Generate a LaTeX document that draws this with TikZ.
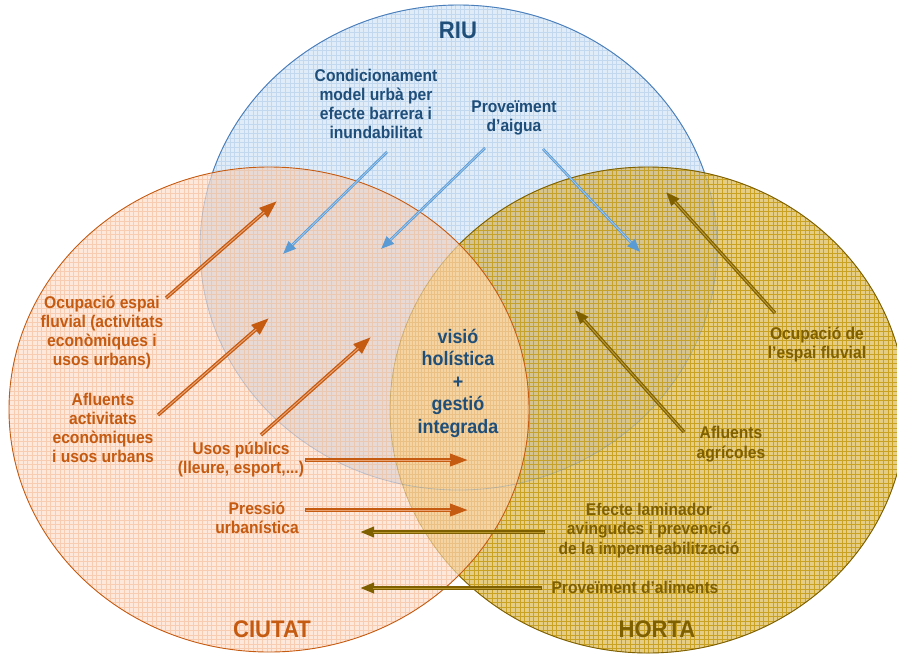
\documentclass[tikz,border=0pt]{standalone}
\usepackage{fontspec}
\setmainfont{Liberation Sans}[FakeStretch=0.92]
\usetikzlibrary{arrows.meta}
\definecolor{riutext}{HTML}{1F4E79}
\definecolor{ciutext}{HTML}{C55A11}
\definecolor{horttext}{HTML}{7F6000}
\definecolor{riufill}{HTML}{E0EDF9}
\definecolor{riugrid}{HTML}{B4D0EC}
\definecolor{ciufill}{HTML}{FDE8DB}
\definecolor{ciugrid}{HTML}{F6C6A6}
\definecolor{hortfill}{HTML}{E6CD85}
\definecolor{hortgrid}{HTML}{C69E1A}
\definecolor{riuciufill}{HTML}{E9D9D4}
\definecolor{riuhortfill}{HTML}{D5C48F}
\definecolor{lensfill}{HTML}{F3D4A2}
\definecolor{lensgrid}{HTML}{E3B06C}
\definecolor{riuline}{HTML}{4A7EBB}
\definecolor{ciuline}{HTML}{C55A11}
\definecolor{hortline}{HTML}{7F6000}
\definecolor{blueshaft}{HTML}{5B9BD5}
\definecolor{bluecore}{HTML}{A9CCEB}
\definecolor{orshaft}{HTML}{C55A11}
\definecolor{orcore}{HTML}{EBA272}
\definecolor{olshaft}{HTML}{7F6000}
\definecolor{olcore}{HTML}{B8982E}
\def\riu{(458.5,247.5) ellipse [x radius=258.5, y radius=242.5]}
\def\ciu{(269,409.5) ellipse [x radius=260, y radius=242.5]}
\def\hort{(648,410) ellipse [x radius=258, y radius=243]}
\tikzset{
  gridlines/.style={line width=0.45pt},
  riutxt/.style={text=riutext, align=center, font=\bfseries\fontsize{17}{19}\selectfont},
  ciutxt/.style={text=ciutext, align=center, font=\bfseries\fontsize{17}{19}\selectfont},
  horttxt/.style={text=horttext, align=center, font=\bfseries\fontsize{17}{19.5}\selectfont},
  bigtxt/.style={font=\bfseries\fontsize{24}{28}\selectfont},
  bluearrow/.style={draw=blueshaft, line width=2.6pt, -{Triangle[length=13pt,width=10pt]}},
  bluecoreline/.style={draw=bluecore, line width=0.7pt, shorten >=13pt, shorten <=0.5pt},
  orarrow/.style={draw=orshaft, line width=3.6pt, -{Triangle[length=18pt,width=12pt]}},
  orcoreline/.style={draw=orcore, line width=1pt, shorten >=17pt, shorten <=0.6pt},
  olarrow/.style={draw=olshaft, line width=3.4pt, -{Triangle[length=14pt,width=10pt]}},
  olcoreline/.style={draw=olcore, line width=1pt, shorten >=13pt, shorten <=0.6pt},
}
\begin{document}
\begin{tikzpicture}[x=1pt,y=-1pt]
\useasboundingbox (0,0) rectangle (897,654);
% base fills
\fill[riufill] \riu;
\fill[ciufill] \ciu;
\fill[hortfill] \hort;
\begin{scope}
  \clip \riu;
  \fill[riuciufill] \ciu;
  \fill[riuhortfill] \hort;
\end{scope}
% grid textures (drawn in an upward y system so both steps are positive)
\begin{scope}
  \clip \riu;
  \begin{scope}[y=1pt]
    \draw[gridlines, riugrid, draw opacity=0.7] (0,-656) grid[step=4.6] (897,0);
  \end{scope}
\end{scope}
\begin{scope}
  \clip \ciu;
  \begin{scope}[y=1pt]
    \draw[gridlines, ciugrid, draw opacity=0.8] (0,-656) grid[step=4.6] (897,0);
  \end{scope}
\end{scope}
\begin{scope}
  \clip \hort;
  \begin{scope}[y=1pt]
    \draw[hortgrid, line width=0.6pt, draw opacity=0.9] (0,-656) grid[step=4.6] (897,0);
  \end{scope}
\end{scope}
% lens CIUTAT-HORTA
\begin{scope}
  \clip \ciu;
  \fill[lensfill] \hort;
  \clip \hort;
  \begin{scope}[y=1pt]
    \draw[gridlines, lensgrid, draw opacity=0.55] (0,-656) grid[xstep=3.1, ystep=4.6] (897,0);
  \end{scope}
\end{scope}
% outlines
\draw[riuline, line width=0.8pt, draw opacity=0.3] \riu;
\begin{scope}[even odd rule]
  \clip (-5,-5) rectangle (905,660) \ciu;
  \begin{scope}[even odd rule]
    \clip (-5,-5) rectangle (905,660) \hort;
    \draw[riuline, line width=0.9pt] \riu;
  \end{scope}
\end{scope}
\draw[hortline, line width=0.8pt, draw opacity=0.25] \hort;
\begin{scope}[even odd rule]
  \clip (-5,-5) rectangle (905,660) \ciu;
  \draw[hortline, line width=0.9pt] \hort;
\end{scope}
\draw[ciuline, line width=0.9pt] \ciu;

% labels
\node[riutxt, bigtxt] (riu) at (458,30) {RIU};
\node[ciutxt, bigtxt] (ciutat) at (272,629) {CIUTAT};
\node[horttxt, bigtxt] (horta) at (657,629) {HORTA};

\node[riutxt] (cond) at (376,103.5) {Condicionament\\model urbà per\\efecte barrera i\\inundabilitat};
\node[riutxt] (aigua) at (514,118) {Proveïment\\d’aigua};
\node[riutxt, font=\bfseries\fontsize{19.5}{22.5}\selectfont] (visio) at (458,383) {visió\\holística\\+\\gestió\\integrada};

\node[ciutxt] (ocup) at (102,333) {Ocupació espai\\fluvial (activitats\\econòmiques i\\usos urbans)};
\node[ciutxt] (aflciu) at (103,428) {Afluents\\activitats\\econòmiques\\i usos urbans};
\node[ciutxt] (usos) at (241,460) {Usos públics\\(lleure, esport,...)};
\node[ciutxt] (pressio) at (257,518) {Pressió\\urbanística};

\node[horttxt] (ocuph) at (817,344.5) {Ocupació de\\l’espai fluvial};
\node[horttxt] (aflh) at (731,444) {Afluents\\agrícoles};
\node[horttxt] (efecte) at (649,530.5) {Efecte laminador\\avingudes i prevenció\\de la impermeabilització};
\node[horttxt] (alim) at (635,587) {Proveïment d’aliments};

% arrow end points
\coordinate (b1s) at (387,152);  \coordinate (b1e) at (283,254);
\coordinate (b2s) at (485,148);  \coordinate (b2e) at (381,249);
\coordinate (b3s) at (543,149);  \coordinate (b3e) at (640,252);
\coordinate (o1s) at (166,298);  \coordinate (o1e) at (277,201);
\coordinate (o2s) at (158,415);  \coordinate (o2e) at (269,318);
\coordinate (o3s) at (261,435);  \coordinate (o3e) at (371,337);
\coordinate (o4s) at (305,460);  \coordinate (o4e) at (468,460);
\coordinate (o5s) at (305,510);  \coordinate (o5e) at (468,510);
\coordinate (g1s) at (775,313);  \coordinate (g1e) at (666,192);
\coordinate (g2s) at (684,432);  \coordinate (g2e) at (575,310);
\coordinate (g3s) at (545,532);  \coordinate (g3e) at (360,532);
\coordinate (g4s) at (542,588);  \coordinate (g4e) at (360,588);

\foreach \a in {b1,b2,b3}{
  \draw[bluearrow] (\a s) -- (\a e);
  \draw[bluecoreline] (\a s) -- (\a e);
}
\foreach \a in {o1,o2,o3,o4,o5}{
  \draw[orarrow] (\a s) -- (\a e);
  \draw[orcoreline] (\a s) -- (\a e);
}
\foreach \a in {g1,g2,g3,g4}{
  \draw[olarrow] (\a s) -- (\a e);
  \draw[olcoreline] (\a s) -- (\a e);
}
\end{tikzpicture}
\end{document}
